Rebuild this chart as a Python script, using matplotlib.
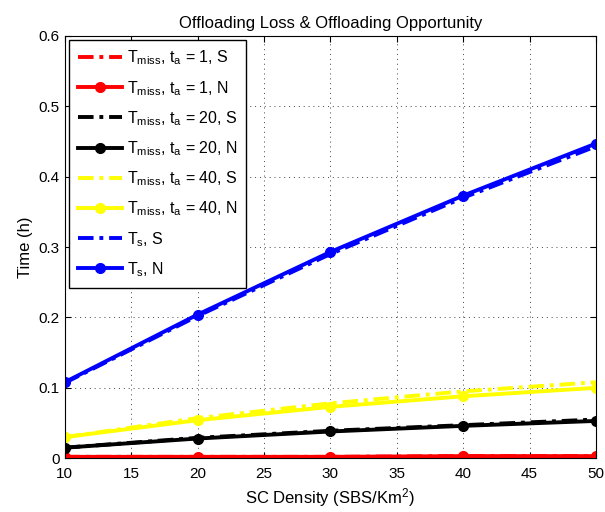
import matplotlib
matplotlib.use("Agg")
import matplotlib.pyplot as plt

plt.rcParams["font.family"] = ["Liberation Sans", "DejaVu Sans"]
plt.rcParams["mathtext.fontset"] = "custom"
plt.rcParams["mathtext.rm"] = "Liberation Sans"
plt.rcParams["mathtext.it"] = "Liberation Sans"

# SC density (SBS/Km^2)
density = [10, 20, 30, 40, 50]

# values (hours)
miss_1_s = [0.002, 0.002, 0.002, 0.003, 0.003]
miss_1_n = [0.002, 0.002, 0.002, 0.003, 0.003]
miss_20_s = [0.015, 0.029, 0.039, 0.047, 0.055]
miss_20_n = [0.015, 0.028, 0.038, 0.046, 0.053]
miss_40_s = [0.030, 0.057, 0.078, 0.095, 0.108]
miss_40_n = [0.030, 0.054, 0.073, 0.088, 0.100]
ts_s = [0.107, 0.202, 0.290, 0.370, 0.443]
ts_n = [0.108, 0.204, 0.293, 0.373, 0.447]

series = [
    (miss_1_s, "red", "S", "1"),
    (miss_1_n, "red", "N", "1"),
    (miss_20_s, "black", "S", "20"),
    (miss_20_n, "black", "N", "20"),
    (miss_40_s, "yellow", "S", "40"),
    (miss_40_n, "yellow", "N", "40"),
]

fig = plt.figure(figsize=(6.05, 5.12), dpi=100)
ax = fig.add_axes([0.107, 0.105, 0.878, 0.825])

dashdot = (4, 1.5, 1, 1.5)
for vals, col, kind, ta in series:
    label = r"$\mathregular{T_{miss}}$, $\mathregular{t_a}$ = %s, %s" % (ta, kind)
    if kind == "S":
        ax.plot(density, vals, color=col, lw=2.8, dashes=dashdot, label=label)
    else:
        ax.plot(density, vals, color=col, lw=2.8, marker="o", ms=7, label=label)

ax.plot(density, ts_s, color="blue", lw=2.8, dashes=dashdot, label=r"$\mathregular{T_s}$, S")
ax.plot(density, ts_n, color="blue", lw=2.8, marker="o", ms=7, label=r"$\mathregular{T_s}$, N")

ax.set_xlim(10, 50)
ax.set_ylim(0, 0.6)
ax.set_xticks(range(10, 51, 5))
ax.set_yticks([0, 0.1, 0.2, 0.3, 0.4, 0.5, 0.6])
ax.set_yticklabels(["0", "0.1", "0.2", "0.3", "0.4", "0.5", "0.6"])
ax.tick_params(direction="in", labelsize=11, length=4, top=True, right=True)
ax.tick_params(axis="x", pad=6)
ax.grid(True, linestyle=(0, (1, 4)), color="#444444", lw=0.7)

ax.set_xlabel(r"SC Density (SBS/Km$^\mathregular{2}$)", fontsize=12)
ax.set_ylabel("Time (h)", fontsize=12)
ax.set_title("Offloading Loss & Offloading Opportunity", fontsize=12)

leg = ax.legend(loc="upper left", fontsize=11.5, fancybox=False, framealpha=1,
                edgecolor="black", borderaxespad=0.25, handlelength=2.8,
                labelspacing=0.72, borderpad=0.55, handletextpad=0.3)
leg.get_frame().set_linewidth(1)

fig.savefig("out.png", dpi=100)
